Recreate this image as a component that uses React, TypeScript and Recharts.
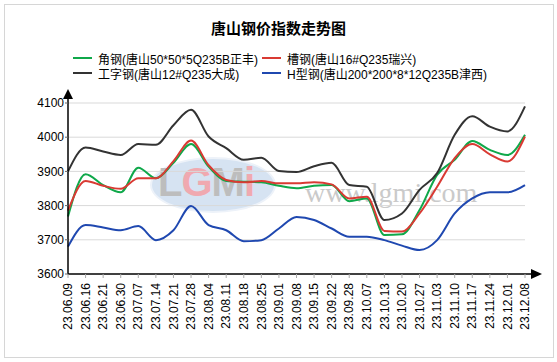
import React from 'react';
import { LineChart, Line, XAxis, YAxis, ReferenceLine } from 'recharts';

const categories = [
  '23.06.09', '23.06.16', '23.06.21', '23.06.30', '23.07.07', '23.07.14', '23.07.21',
  '23.07.28', '23.08.04', '23.08.11', '23.08.18', '23.08.25', '23.09.01', '23.09.08',
  '23.09.15', '23.09.22', '23.09.28', '23.10.07', '23.10.13', '23.10.20', '23.10.27',
  '23.11.03', '23.11.10', '23.11.17', '23.11.24', '23.12.01', '23.12.08',
];

// 角钢
const angleSteel = [
  3768, 3892, 3860, 3839, 3911, 3880, 3925, 3980, 3914, 3872, 3870, 3868, 3858, 3851,
  3858, 3860, 3813, 3821, 3714, 3716, 3787, 3890, 3934, 3989, 3963, 3948, 4007,
];
// 槽钢
const channelSteel = [
  3785, 3872, 3858, 3849, 3880, 3880, 3930, 3990, 3918, 3875, 3868, 3872, 3865, 3865,
  3868, 3862, 3821, 3826, 3726, 3724, 3777, 3855, 3939, 3980, 3950, 3929, 4002,
];
// 工字钢
const iBeam = [
  3900, 3970, 3958, 3948, 3980, 3978, 4035, 4080, 4002, 3968, 3934, 3940, 3901, 3898,
  3915, 3925, 3860, 3855, 3758, 3777, 3846, 3895, 4007, 4061, 4031, 4017, 4090,
];
// H型钢
const hBeam = [
  3680, 3743, 3736, 3728, 3740, 3699, 3728, 3799, 3743, 3728, 3696, 3699, 3733, 3767,
  3758, 3733, 3709, 3709, 3699, 3683, 3670, 3699, 3777, 3821, 3839, 3839, 3860,
];

const yTicks = [3600, 3700, 3800, 3900, 4000, 4100];

const series = [
  { key: 'angle', name: '角钢(唐山50*50*5Q235B正丰)', color: '#0fa84a', values: angleSteel },
  { key: 'channel', name: '槽钢(唐山16#Q235瑞兴)', color: '#d93a33', values: channelSteel },
  { key: 'ibeam', name: '工字钢(唐山12#Q235大成)', color: '#333333', values: iBeam },
  { key: 'hbeam', name: 'H型钢(唐山200*200*8*12Q235B津西)', color: '#1f48b0', values: hBeam },
];

const data = categories.map((date, i) => {
  const row: Record<string, string | number> = { date };
  series.forEach((s) => (row[s.key] = s.values[i]));
  return row;
});

const FONT = '"Liberation Sans", Arial, "Noto Sans CJK SC", sans-serif';

const DateTick = (props: any) => {
  const { x, y, payload } = props;
  return (
    <text
      x={x}
      y={y}
      transform={`rotate(-90 ${x} ${y})`}
      textAnchor="end"
      dy="0.35em"
      fontSize={12}
      fill="#000"
      fontFamily={FONT}
    >
      {payload.value}
    </text>
  );
};

export default function App() {
  return (
    <div style={{ position: 'absolute', left: 0, top: 0, width: 557, height: 362, background: '#fff', fontFamily: FONT }}>
      <div style={{ position: 'absolute', left: 4, top: 4, width: 548, height: 352, border: '1px solid #d6d6d6' }} />
      <div style={{ position: 'absolute', left: 0, top: 17, width: 557, textAlign: 'center', fontSize: 15, fontWeight: 'bold', color: '#000' }}>
        唐山钢价指数走势图
      </div>

      {/* legend, two columns */}
      {series.map((s, i) => (
        <div
          key={s.key}
          style={{
            position: 'absolute',
            left: i % 2 === 0 ? 73 : 262,
            top: i < 2 ? 50 : 65,
            height: 16,
            display: 'flex',
            alignItems: 'center',
            fontSize: 12,
            color: '#000',
            whiteSpace: 'nowrap',
          }}
        >
          <span style={{ display: 'inline-block', width: 19, height: 2, background: s.color, marginRight: 6 }} />
          {s.name}
        </div>
      ))}

      {/* watermark */}
      <div style={{ position: 'absolute', left: 150, top: 157, width: 122, height: 52, borderRadius: '50%', background: '#d6e3f2', border: '2px solid #edf2f9' }} />
      <div style={{ position: 'absolute', left: 158, top: 160, fontSize: 40, fontWeight: 'bold', fontFamily: 'Arial, sans-serif', letterSpacing: -1 }}>
        <span style={{ color: '#bdbdbd' }}>L</span>
        <span style={{ color: '#f0a9b0' }}>G</span>
        <span style={{ color: '#bdbdbd' }}>M</span>
        <span style={{ color: '#f0a9b0' }}>i</span>
      </div>
      <div style={{ position: 'absolute', left: 305, top: 177, fontSize: 28, fontFamily: '"Liberation Serif", serif', color: '#cacaca' }}>
        www.lgmi.com
      </div>

      <div style={{ position: 'absolute', left: 0, top: 0 }}>
        <LineChart width={557} height={362} data={data} margin={{ top: 99, right: 26, bottom: 18, left: 8 }}>
          {yTicks.slice(1).map((v) => (
            <ReferenceLine
              key={v}
              segment={[
                { x: categories[0], y: v },
                { x: categories[categories.length - 1], y: v },
              ]}
              stroke="#d9d9d9"
              strokeWidth={1}
            />
          ))}
          <XAxis
            dataKey="date"
            interval={0}
            padding={{ left: 0, right: 6 }}
            height={70}
            tickSize={4}
            tickMargin={5}
            tickLine={{ stroke: '#aaa' }}
            axisLine={{ stroke: '#000', strokeWidth: 1.5 }}
            tick={<DateTick />}
          />
          <YAxis
            domain={[3600, 4100]}
            ticks={yTicks}
            padding={{ top: 4, bottom: 0 }}
            width={60}
            tickSize={3}
            tickMargin={1}
            tickLine={{ stroke: '#666' }}
            axisLine={{ stroke: '#000', strokeWidth: 1.5 }}
            tick={{ fontSize: 12, fill: '#000', fontFamily: FONT }}
          />
          {series.map((s) => (
            <Line
              key={s.key}
              type="monotone"
              dataKey={s.key}
              name={s.name}
              stroke={s.color}
              strokeWidth={2}
              dot={false}
              activeDot={false}
              isAnimationActive={false}
            />
          ))}
        </LineChart>
      </div>

      {/* axis arrows */}
      <svg style={{ position: 'absolute', left: 0, top: 0 }} width={557} height={362}>
        <polygon points="68,89 63,99 73,99" fill="#000" />
        <polygon points="542,274 531,269 531,279" fill="#000" />
      </svg>
    </div>
  );
}
